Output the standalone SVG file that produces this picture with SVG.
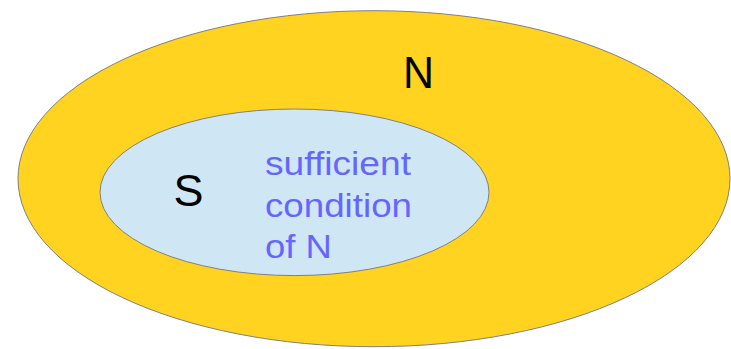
<svg xmlns="http://www.w3.org/2000/svg" width="731" height="349" viewBox="0 0 731 349">
<style>
.set{stroke:#808080;stroke-width:1}
.big{font-family:"Liberation Sans",Arial,sans-serif;font-size:44px;fill:#000}
.lbl{font-family:"Liberation Sans",Arial,sans-serif;font-size:33px;fill:#6666ff}
</style>
<rect width="731" height="349" fill="#fff"/>
<g id="N">
<ellipse class="set" cx="374" cy="178.7" rx="356" ry="168" fill="#ffd320"/>
<text class="big" x="418.5" y="88" text-anchor="middle" textLength="31" lengthAdjust="spacingAndGlyphs">N</text>
</g>
<g id="S">
<ellipse class="set" cx="294.5" cy="192.3" rx="194.5" ry="83.3" fill="#cfe7f5"/>
<text class="big" x="188.5" y="206" text-anchor="middle" textLength="30" lengthAdjust="spacingAndGlyphs">S</text>
<text class="lbl" x="265" y="175" textLength="146" lengthAdjust="spacingAndGlyphs">sufficient</text>
<text class="lbl" x="265" y="216.7" textLength="147" lengthAdjust="spacingAndGlyphs">condition</text>
<text class="lbl" x="265" y="258.3" textLength="67" lengthAdjust="spacingAndGlyphs">of N</text>
</g>
</svg>
